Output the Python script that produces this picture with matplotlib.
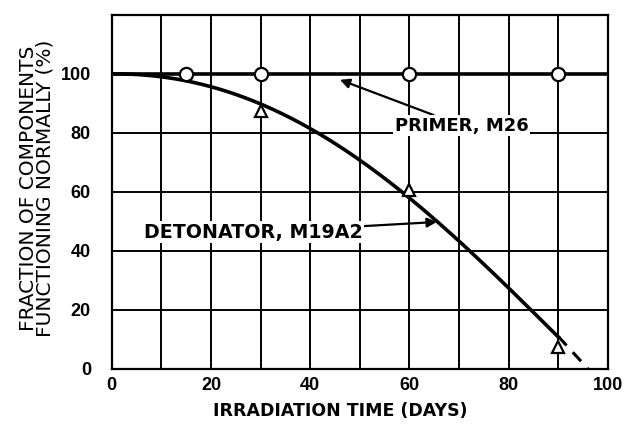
import numpy as np
import matplotlib.pyplot as plt

# ==============================================================
# Data
# ==============================================================
primer_days = [15, 30, 60, 90]
primer_pct = [100, 100, 100, 100]

detonator_days = [30, 60, 90]
detonator_pct = [87.5, 60.5, 7.5]

# fitted curve, solid part then dashed extrapolation
curve_days = [0, 10, 20, 30, 40, 50, 60, 70, 80, 90]
curve_pct = [100, 99, 95.7, 90.2, 81, 70, 59.3, 43, 27, 11]
extra_days = [90, 96]
extra_pct = [11, 0]

x_ticks = [0, 20, 40, 60, 80, 100]
y_ticks = [0, 20, 40, 60, 80, 100]

# ==============================================================
# Figure
# ==============================================================
plt.rcParams["font.family"] = ["DejaVu Sans"]
TICK_FONT = "Liberation Sans"

fig = plt.figure(figsize=(6.28, 4.26), dpi=100)
ax = fig.add_axes([0.178, 0.134, 0.79, 0.831])

ax.set_xlim(0, 100)
ax.set_ylim(0, 120)
ax.set_xticks(x_ticks)
ax.set_yticks(y_ticks)
ax.set_xticks(np.arange(0, 101, 10), minor=True)
ax.set_yticks(np.arange(0, 121, 20), minor=True)
ax.grid(which="both", color="black", linewidth=1.4)
ax.tick_params(which="both", length=0)
ax.tick_params(axis="x", pad=6)
ax.tick_params(axis="y", pad=15)
for lab in ax.get_xticklabels() + ax.get_yticklabels():
    lab.set_fontproperties({"family": TICK_FONT, "weight": "bold", "size": 13})
for sp in ax.spines.values():
    sp.set_linewidth(1.6)

# primer line
ax.plot([0, 100], [100, 100], color="black", linewidth=2.6, zorder=3)
ax.plot(primer_days, primer_pct, "o", markersize=9.5, markerfacecolor="white",
        markeredgecolor="black", markeredgewidth=1.6, zorder=4)

# detonator curve
xs = np.linspace(0, 90, 200)
coef = np.polyfit(curve_days, curve_pct, 4)
ax.plot(xs, np.polyval(coef, xs), color="black", linewidth=2.6, zorder=3)
ax.plot(extra_days, extra_pct, color="black", linewidth=2.2, dashes=(4, 3), zorder=3)
ax.plot(detonator_days, detonator_pct, "^", markersize=9, markerfacecolor="white",
        markeredgecolor="black", markeredgewidth=1.6, zorder=4)

# labels with arrows
ax.annotate("PRIMER, M26", xy=(46, 98), xytext=(57, 82.5), fontsize=13,
            fontweight="bold", va="center", ha="left",
            bbox=dict(facecolor="white", edgecolor="none", pad=1),
            arrowprops=dict(arrowstyle="-|>", color="black", lw=1.6,
                            mutation_scale=14, shrinkA=0, shrinkB=0))
ax.annotate("DETONATOR, M19A2", xy=(65.5, 49.8), xytext=(50.5, 46.3), fontsize=13.7,
            fontweight="bold", va="center", ha="right",
            bbox=dict(facecolor="white", edgecolor="none", pad=1),
            arrowprops=dict(arrowstyle="-|>", color="black", lw=1.6,
                            mutation_scale=14, shrinkA=0, shrinkB=0))

ax.set_xlabel("IRRADIATION TIME (DAYS)", fontsize=12.5, fontweight="bold")
ax.xaxis.set_label_coords(0.46, -0.093)
ax.set_ylabel("FRACTION OF COMPONENTS\nFUNCTIONING NORMALLY (%)", fontsize=14.5,
              linespacing=0.8)
ax.yaxis.set_label_coords(-0.116, 0.51)

fig.savefig("out.png", dpi=100)
